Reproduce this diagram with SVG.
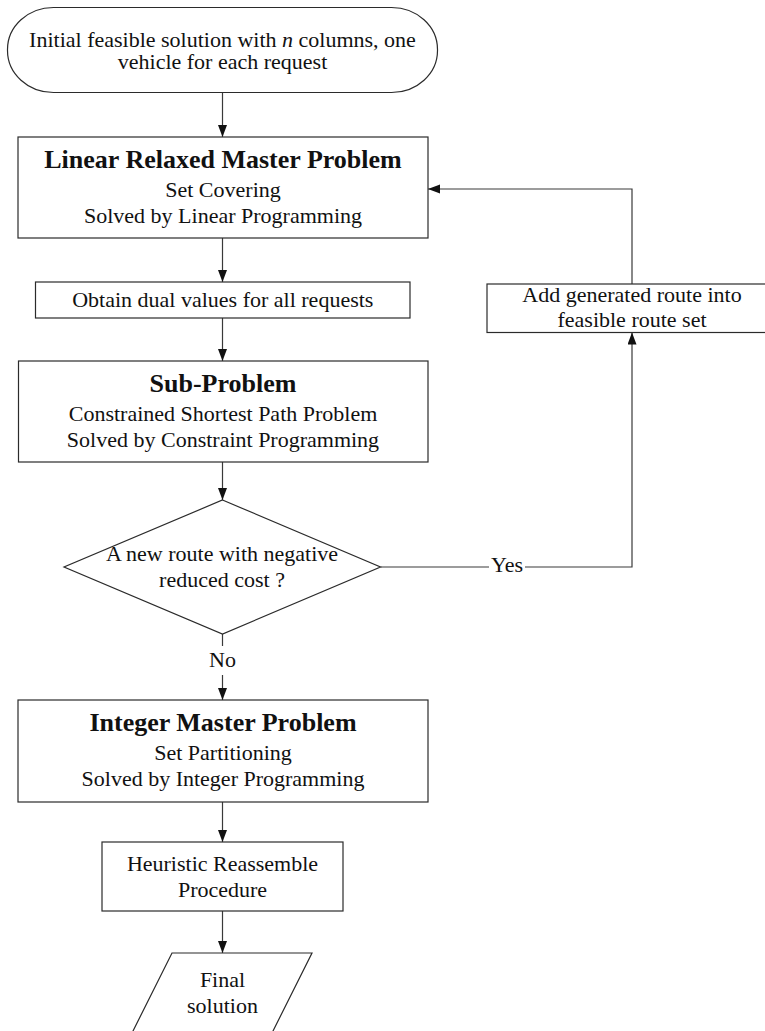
<svg xmlns="http://www.w3.org/2000/svg" width="765" height="1031" viewBox="0 0 765 1031">
  <style>
    .shape { fill: #ffffff; stroke: #2b2b2b; stroke-width: 1.2; }
    .conn { fill: none; stroke: #3a3a3a; stroke-width: 1.2; }
    text { font-family: "Liberation Serif", "Times New Roman", serif; font-size: 22px; fill: #111111; text-anchor: middle; }
    .title { font-weight: bold; font-size: 26px; }
  </style>
  <defs>
    <marker id="arrow" markerUnits="userSpaceOnUse" markerWidth="12" markerHeight="10" refX="12" refY="4.5" orient="auto">
      <path d="M0,0 L12,4.5 L0,9 z" fill="#111111"/>
    </marker>
  </defs>
  <rect width="765" height="1031" fill="#ffffff"/>

  <!-- connectors -->
  <g id="connectors">
    <line class="conn" x1="222.5" y1="92" x2="222.5" y2="137" marker-end="url(#arrow)"/>
    <line class="conn" x1="222.5" y1="238" x2="222.5" y2="282" marker-end="url(#arrow)"/>
    <line class="conn" x1="222.5" y1="318" x2="222.5" y2="361" marker-end="url(#arrow)"/>
    <line class="conn" x1="222.5" y1="462" x2="222.5" y2="500" marker-end="url(#arrow)"/>
    <!-- Yes branch: back to the route set, then into the master problem -->
    <line class="conn" x1="380.5" y1="567" x2="489" y2="567"/>
    <polyline class="conn" points="525,567 632,567 632,332.5" marker-end="url(#arrow)"/>
    <polyline class="conn" points="632,284 632,189 428,189" marker-end="url(#arrow)"/>
    <text x="507" y="572">Yes</text>
    <!-- No branch -->
    <line class="conn" x1="222.5" y1="634" x2="222.5" y2="646"/>
    <line class="conn" x1="222.5" y1="675" x2="222.5" y2="700" marker-end="url(#arrow)"/>
    <text x="222.5" y="667">No</text>
    <line class="conn" x1="222.5" y1="802" x2="222.5" y2="842" marker-end="url(#arrow)"/>
    <line class="conn" x1="222.5" y1="911" x2="222.5" y2="953" marker-end="url(#arrow)"/>
  </g>

  <g id="start">
    <rect class="shape" x="7.5" y="7.5" width="430" height="85" rx="46" ry="42"/>
    <text x="222.5" y="47">Initial feasible solution with <tspan font-style="italic">n</tspan> columns, one</text>
    <text x="222.5" y="69">vehicle for each request</text>
  </g>

  <g id="master-lp">
    <rect class="shape" x="18" y="137" width="410" height="101"/>
    <text class="title" x="223" y="168">Linear Relaxed Master Problem</text>
    <text x="223" y="197">Set Covering</text>
    <text x="223" y="223">Solved by Linear Programming</text>
  </g>

  <g id="dual-values">
    <rect class="shape" x="35.5" y="282" width="374.5" height="36"/>
    <text x="222.8" y="307">Obtain dual values for all requests</text>
  </g>

  <g id="sub-problem">
    <rect class="shape" x="18.5" y="361" width="409.5" height="101"/>
    <text class="title" x="223" y="392">Sub-Problem</text>
    <text x="223" y="421">Constrained Shortest Path Problem</text>
    <text x="223" y="447">Solved by Constraint Programming</text>
  </g>

  <g id="add-route">
    <rect class="shape" x="487" y="284" width="290" height="48.5"/>
    <text x="632" y="302">Add generated route into</text>
    <text x="632" y="327">feasible route set</text>
  </g>

  <g id="decision">
    <polygon class="shape" points="222.5,500 380.5,567 222.5,634 64,567"/>
    <text x="222" y="561">A new route with negative</text>
    <text x="222" y="587">reduced cost ?</text>
  </g>

  <g id="master-ip">
    <rect class="shape" x="18" y="700" width="410" height="102"/>
    <text class="title" x="223" y="731">Integer Master Problem</text>
    <text x="223" y="760">Set Partitioning</text>
    <text x="223" y="786">Solved by Integer Programming</text>
  </g>

  <g id="heuristic">
    <rect class="shape" x="102" y="842" width="241" height="69"/>
    <text x="222.5" y="871">Heuristic Reassemble</text>
    <text x="222.5" y="897">Procedure</text>
  </g>

  <g id="final">
    <polygon class="shape" points="172,953 312,953 272,1033 132,1033"/>
    <text x="222.5" y="987">Final</text>
    <text x="222.5" y="1013">solution</text>
  </g>
</svg>
